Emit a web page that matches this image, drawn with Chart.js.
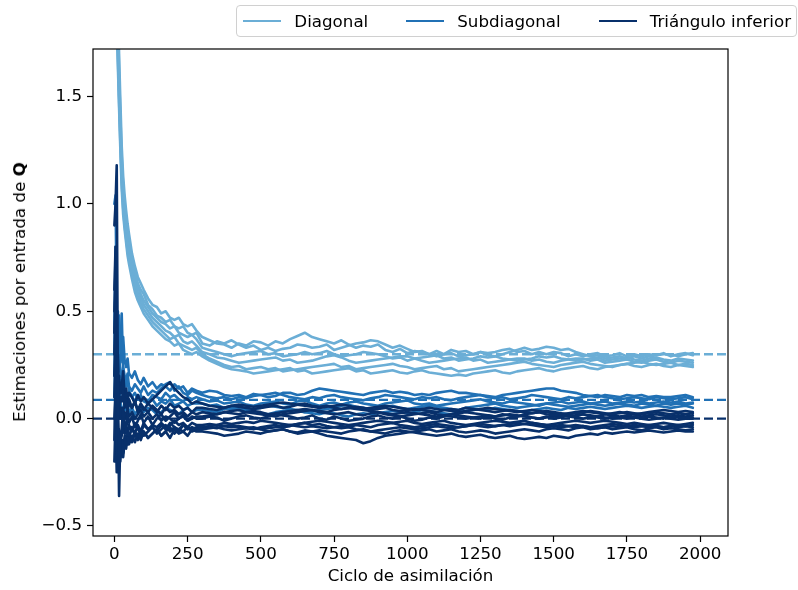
<!DOCTYPE html>
<html>
<head>
<meta charset="utf-8">
<script src="https://cdn.jsdelivr.net/npm/chart.js@4.4.1/dist/chart.umd.min.js"></script>
<style>
html,body{margin:0;padding:0;background:#fff;}
#wrap{position:relative;width:798px;height:590px;overflow:hidden;}
#c{position:absolute;left:0;top:0;}
#ytitle{position:absolute;left:19px;top:292px;transform:translate(-50%,-50%) rotate(-90deg);white-space:nowrap;font-family:"DejaVu Sans";font-size:16.7px;color:#000;}
#legend{position:absolute;right:1px;top:5px;height:32px;box-sizing:border-box;border:1px solid #d0d0d0;border-radius:4px;display:flex;align-items:center;padding:0 5px 0 6px;font-family:"DejaVu Sans";font-size:16.7px;color:#000;background:rgba(255,255,255,0.8);}
#legend .item{display:flex;align-items:center;margin-left:38px;}
#legend .item:first-child{margin-left:0;}
#legend .sw{width:38px;height:2.6px;margin-right:13px;}
</style>
</head>
<body>
<div id="wrap">
<canvas id="c" width="798" height="590"></canvas>
<div id="ytitle">Estimaciones por entrada de <b>Q</b></div>
<div id="legend"></div>
</div>
<script>
// ---------------- data ----------------
const earlyCycles = [0,4,8,12,16,20,25,30,35,40,45,50,60,70,80,90,100,115,130,145,160,175,190,205,220,235,250,265,280];
const lateCycles = [300,325,350,375,400,425,450,475,500,525,550,575,600,625,650,675,700,725,750,775,
  800,825,850,875,900,925,950,975,1000,1025,1050,1075,1100,1125,1150,1175,1200,1225,1250,1275,
  1300,1325,1350,1375,1400,1425,1450,1475,1500,1525,1550,1575,1600,1625,1650,1675,1700,1725,1750,1775,
  1800,1825,1850,1875,1900,1925,1950,1975];

const seriesNames = ['Diagonal','Subdiagonal','Triángulo inferior'];
const seriesColors = ['#6baed6','#2171b5','#08306b'];
const trueValues = [0.30, 0.087, 0.0];
const xTicks = [0,250,500,750,1000,1250,1500,1750,2000];
const yTicks = [-0.5,0,0.5,1.0,1.5];

const diagonalEarly = [
  [3.3,2.7,2.2,1.95,1.7,1.5,1.27,1.13,1.04,0.97,0.91,0.86,0.77,0.71,0.66,0.63,0.60,0.56,0.53,0.52,0.49,0.50,0.47,0.46,0.47,0.44,0.43,0.44,0.41],
  [3.1,2.55,2.1,1.85,1.62,1.43,1.22,1.08,1.0,0.93,0.87,0.82,0.74,0.69,0.63,0.60,0.58,0.53,0.51,0.48,0.47,0.45,0.46,0.43,0.42,0.43,0.40,0.39,0.40],
  [3.0,2.45,2.0,1.78,1.57,1.38,1.17,1.04,0.96,0.89,0.84,0.79,0.71,0.66,0.61,0.58,0.55,0.52,0.49,0.47,0.45,0.44,0.42,0.43,0.40,0.39,0.38,0.39,0.37],
  [2.9,2.35,1.95,1.72,1.52,1.34,1.13,1.01,0.93,0.86,0.81,0.76,0.69,0.63,0.59,0.56,0.53,0.50,0.47,0.45,0.43,0.41,0.40,0.38,0.39,0.36,0.35,0.36,0.34],
  [2.8,2.25,1.9,1.68,1.48,1.3,1.1,0.98,0.9,0.84,0.78,0.74,0.67,0.61,0.57,0.54,0.51,0.48,0.45,0.43,0.41,0.39,0.37,0.38,0.35,0.34,0.33,0.32,0.33],
  [2.7,2.15,1.85,1.64,1.45,1.27,1.07,0.95,0.88,0.82,0.76,0.72,0.65,0.59,0.55,0.52,0.49,0.46,0.43,0.41,0.39,0.37,0.36,0.34,0.35,0.32,0.31,0.30,0.31]
];
const diagonalLate = [
  [0.38,0.365,0.35,0.345, 0.33,0.35,0.34,0.36, 0.355,0.34,0.36,0.35, 0.37,0.385,0.40,0.38, 0.37,0.36,0.35,0.365, 0.345,0.33,0.34,0.335, 0.345,0.32,0.31,0.325, 0.305,0.315,0.31,0.30, 0.315,0.30,0.32,0.31, 0.315,0.30,0.31,0.305, 0.31,0.32,0.325,0.31, 0.315,0.30,0.31,0.30, 0.31,0.305,0.29,0.30, 0.29,0.30,0.305,0.29, 0.295,0.305,0.29,0.30, 0.29,0.30,0.295,0.305, 0.29,0.30,0.305,0.295],
  [0.35,0.34,0.36,0.35, 0.365,0.345,0.33,0.34, 0.32,0.33,0.315,0.325, 0.33,0.345,0.34,0.33, 0.335,0.345,0.32,0.33, 0.34,0.35,0.355,0.365, 0.36,0.345,0.33,0.34, 0.325,0.31,0.315,0.30, 0.29,0.30,0.305,0.29, 0.295,0.30,0.31,0.295, 0.29,0.30,0.31,0.32, 0.33,0.32,0.325,0.335, 0.33,0.32,0.325,0.31, 0.30,0.29,0.295,0.28, 0.285,0.29,0.28,0.29, 0.28,0.29,0.295,0.30, 0.30,0.29,0.30,0.305],
  [0.33,0.32,0.31,0.30, 0.29,0.30,0.305,0.31, 0.315,0.30,0.305,0.29, 0.295,0.30,0.31,0.30, 0.305,0.315,0.30,0.29, 0.295,0.30,0.31,0.305, 0.30,0.29,0.28,0.285, 0.27,0.28,0.285,0.29, 0.295,0.28,0.285,0.27, 0.275,0.28,0.29,0.285, 0.29,0.28,0.275,0.27, 0.275,0.28,0.29,0.285, 0.29,0.28,0.275,0.27, 0.275,0.28,0.285,0.27, 0.275,0.28,0.285,0.275, 0.27,0.28,0.285,0.275, 0.27,0.28,0.275,0.27],
  [0.31,0.30,0.285,0.28, 0.27,0.26,0.265,0.27, 0.275,0.28,0.285,0.27, 0.275,0.26,0.265,0.27, 0.28,0.29,0.295,0.285, 0.27,0.26,0.265,0.27, 0.275,0.28,0.285,0.29, 0.29,0.28,0.27,0.26, 0.265,0.27,0.275,0.28, 0.285,0.27,0.275,0.26, 0.265,0.27,0.275,0.28, 0.28,0.27,0.275,0.265, 0.26,0.27,0.275,0.28, 0.28,0.27,0.275,0.26, 0.265,0.27,0.275,0.265, 0.26,0.27,0.275,0.265, 0.26,0.27,0.265,0.26],
  [0.30,0.28,0.265,0.25, 0.24,0.245,0.23,0.235, 0.24,0.23,0.235,0.22, 0.225,0.23,0.235,0.24, 0.245,0.25,0.255,0.24, 0.245,0.23,0.235,0.24, 0.245,0.25,0.255,0.245, 0.24,0.23,0.235,0.24, 0.245,0.23,0.235,0.22, 0.225,0.23,0.235,0.24, 0.245,0.25,0.255,0.26, 0.265,0.255,0.25,0.245, 0.24,0.25,0.255,0.26, 0.265,0.255,0.25,0.245, 0.24,0.25,0.255,0.26, 0.265,0.255,0.25,0.255, 0.26,0.25,0.255,0.25],
  [0.29,0.27,0.255,0.24, 0.23,0.225,0.22,0.21, 0.215,0.22,0.225,0.23, 0.235,0.22,0.225,0.21, 0.215,0.22,0.225,0.23, 0.235,0.22,0.225,0.21, 0.215,0.22,0.225,0.215, 0.21,0.22,0.225,0.215, 0.21,0.205,0.20,0.205, 0.20,0.21,0.215,0.22, 0.225,0.215,0.21,0.22, 0.225,0.23,0.235,0.225, 0.22,0.23,0.235,0.24, 0.245,0.235,0.23,0.24, 0.245,0.25,0.255,0.245, 0.24,0.25,0.255,0.245, 0.24,0.25,0.245,0.24]
];

const subdiagonalEarly = [
  [1.0,1.04,0.5,0.42,0.48,0.35,0.30,0.38,0.27,0.24,0.28,0.21,0.19,0.22,0.18,0.16,0.19,0.15,0.17,0.14,0.16,0.15,0.13,0.16,0.14,0.15,0.12,0.14,0.13],
  [0.3,0.7,0.35,0.25,0.30,0.22,0.18,0.24,0.20,0.17,0.21,0.15,0.13,0.16,0.14,0.12,0.15,0.11,0.13,0.12,0.14,0.16,0.17,0.13,0.15,0.12,0.11,0.13,0.12],
  [0.2,0.5,0.2,0.15,0.12,0.18,0.14,0.10,0.13,0.11,0.09,0.12,0.10,0.08,0.11,0.09,0.10,0.08,0.11,0.10,0.09,0.12,0.10,0.11,0.09,0.08,0.10,0.09,0.10],
  [0.4,0.8,0.45,0.5,0.30,0.26,0.49,0.22,0.18,0.15,0.17,0.13,0.10,0.12,0.09,0.11,0.08,0.07,0.09,0.06,0.08,0.07,0.09,0.06,0.07,0.08,0.06,0.07,0.07],
  [0.1,0.3,0.05,0.1,0.15,0.08,0.05,0.02,0.07,0.04,0.06,0.03,0.05,0.02,0.04,0.06,0.03,0.05,0.04,0.02,0.03,0.05,0.04,0.03,0.02,0.04,0.05,0.03,0.04]
];
const subdiagonalLate = [
  [0.12,0.13,0.125,0.11, 0.105,0.11,0.10,0.115, 0.11,0.10,0.105,0.12, 0.12,0.11,0.115,0.13, 0.14,0.135,0.13,0.125, 0.12,0.115,0.11,0.12, 0.125,0.13,0.12,0.125, 0.12,0.11,0.115,0.11, 0.12,0.125,0.13,0.12, 0.12,0.115,0.11,0.105, 0.10,0.11,0.115,0.12, 0.125,0.13,0.135,0.14, 0.14,0.13,0.125,0.12, 0.11,0.105,0.10,0.11, 0.105,0.10,0.11,0.105, 0.11,0.10,0.105,0.10, 0.10,0.105,0.11,0.10],
  [0.11,0.10,0.095,0.10, 0.09,0.10,0.095,0.105, 0.11,0.115,0.12,0.11, 0.10,0.095,0.09,0.10, 0.095,0.105,0.11,0.10, 0.095,0.09,0.085,0.095, 0.10,0.11,0.105,0.10, 0.095,0.09,0.10,0.095, 0.10,0.09,0.085,0.095, 0.10,0.105,0.11,0.10, 0.095,0.10,0.09,0.095, 0.10,0.11,0.105,0.10, 0.095,0.09,0.10,0.095, 0.10,0.105,0.11,0.10, 0.095,0.09,0.095,0.10, 0.095,0.09,0.10,0.095, 0.09,0.095,0.10,0.09],
  [0.09,0.08,0.085,0.07, 0.075,0.08,0.065,0.06, 0.07,0.075,0.08,0.07, 0.065,0.08,0.085,0.07, 0.06,0.07,0.075,0.065, 0.075,0.08,0.07,0.065, 0.06,0.07,0.075,0.08, 0.085,0.07,0.065,0.07, 0.06,0.065,0.07,0.075, 0.08,0.085,0.09,0.08, 0.075,0.07,0.08,0.075, 0.07,0.065,0.06,0.07, 0.075,0.08,0.07,0.075, 0.08,0.07,0.075,0.08, 0.07,0.075,0.08,0.075, 0.08,0.07,0.075,0.08, 0.075,0.08,0.07,0.075],
  [0.07,0.06,0.065,0.05, 0.045,0.05,0.04,0.045, 0.05,0.06,0.055,0.05, 0.045,0.04,0.03,0.035, 0.04,0.045,0.05,0.06, 0.065,0.055,0.05,0.045, 0.05,0.055,0.06,0.05, 0.045,0.05,0.055,0.06, 0.055,0.05,0.045,0.04, 0.05,0.055,0.06,0.065, 0.07,0.06,0.055,0.05, 0.055,0.06,0.065,0.07, 0.065,0.06,0.055,0.06, 0.065,0.07,0.065,0.06, 0.065,0.07,0.065,0.06, 0.07,0.065,0.06,0.07, 0.065,0.07,0.065,0.07],
  [0.04,0.035,0.03,0.045, 0.05,0.04,0.035,0.03, 0.025,0.02,0.03,0.035, 0.04,0.035,0.03,0.025, 0.02,0.03,0.025,0.015, 0.01,0.02,0.025,0.02, 0.025,0.03,0.035,0.03, 0.025,0.03,0.04,0.035, 0.03,0.025,0.02,0.03, 0.035,0.04,0.045,0.04, 0.05,0.045,0.04,0.035, 0.03,0.04,0.045,0.05, 0.045,0.04,0.05,0.045, 0.05,0.055,0.05,0.045, 0.05,0.055,0.06,0.055, 0.05,0.055,0.06,0.055, 0.05,0.055,0.06,0.05]
];

const lowerEarly = [
  [0.9,1.0,1.18,0.1,-0.36,-0.1,-0.05,0.05,-0.03,-0.06,0.02,-0.02,0.01,-0.04,-0.01,0.02,-0.02,0.01,-0.03,0.0,0.02,-0.01,0.01,0.03,0.0,0.02,-0.01,0.01,0.0],
  [0.2,0.4,-0.1,-0.25,-0.15,-0.20,-0.12,-0.18,-0.10,-0.14,-0.09,-0.12,-0.08,-0.11,-0.07,-0.10,-0.06,-0.09,-0.07,-0.05,-0.08,-0.06,-0.09,-0.05,-0.07,-0.06,-0.08,-0.05,-0.06],
  [0.3,0.5,0.1,-0.2,-0.05,-0.1,-0.08,-0.03,-0.07,-0.04,-0.09,-0.03,-0.06,-0.02,-0.05,-0.07,-0.03,-0.05,-0.04,-0.06,-0.03,-0.05,-0.02,-0.04,-0.06,-0.03,-0.05,-0.04,-0.05],
  [0.1,0.3,0.05,0.2,0.05,0.1,0.08,0.13,0.05,0.09,0.04,0.07,0.05,0.08,0.03,0.06,0.04,0.07,0.05,0.03,0.06,0.04,0.07,0.05,0.06,0.04,0.05,0.03,0.05],
  [-0.1,0.2,-0.15,0.0,-0.12,-0.08,-0.16,-0.10,-0.13,-0.08,-0.12,-0.09,-0.11,-0.07,-0.10,-0.08,-0.06,-0.09,-0.07,-0.05,-0.08,-0.06,-0.04,-0.07,-0.05,-0.06,-0.04,-0.06,-0.05],
  [0.5,0.7,0.2,0.3,0.1,0.15,0.12,0.18,0.08,0.11,0.06,0.09,0.05,0.08,0.04,0.07,0.05,0.03,0.06,0.04,0.02,0.05,0.03,0.04,0.02,0.03,0.01,0.03,0.02],
  [0.0,0.1,-0.2,-0.1,-0.22,-0.15,-0.1,-0.16,-0.12,-0.08,-0.11,-0.07,-0.10,-0.06,-0.09,-0.05,-0.08,-0.06,-0.04,-0.07,-0.05,-0.03,-0.06,-0.04,-0.05,-0.03,-0.04,-0.05,-0.04],
  [0.4,0.6,0.3,0.0,0.1,0.0,0.05,-0.02,0.03,0.0,0.04,0.01,0.03,0.0,0.02,0.04,0.01,0.03,0.0,0.02,-0.01,0.01,0.0,-0.02,0.0,0.01,-0.01,0.0,0.01],
  [-0.2,0.0,-0.25,-0.1,-0.18,-0.06,-0.12,-0.15,-0.08,-0.11,-0.06,-0.09,-0.04,-0.07,-0.03,-0.06,-0.02,-0.05,-0.03,-0.04,-0.02,-0.04,-0.03,-0.01,-0.03,-0.02,-0.04,-0.02,-0.03],
  [0.6,0.8,0.4,0.15,0.2,0.12,0.15,0.22,0.1,0.14,0.09,0.12,0.1,0.07,0.11,0.08,0.1,0.07,0.09,0.11,0.13,0.15,0.17,0.14,0.12,0.10,0.09,0.07,0.08]
];
const lowerLate = [
  [0.0,0.01,0.005,-0.01, 0.0,0.01,0.015,0.005, 0.0,0.01,0.02,0.015, 0.01,0.0,0.005,0.015, 0.0,-0.005,0.01,0.0, -0.01,-0.005,0.0,0.01, 0.015,0.005,0.0,0.01, 0.0,-0.01,-0.005,0.005, 0.0,0.01,0.02,0.015, 0.01,0.005,0.0,0.01, 0.0,-0.005,0.005,0.01, 0.015,0.005,0.0,0.01, 0.0,0.005,0.015,0.01, 0.02,0.01,0.005,0.0, 0.01,0.005,0.0,0.01, 0.0,0.01,0.005,0.0, 0.01,0.005,0.0,0.005],
  [-0.06,-0.065,-0.07,-0.08, -0.075,-0.07,-0.06,-0.065, -0.07,-0.06,-0.055,-0.05, -0.06,-0.065,-0.055,-0.06, -0.07,-0.08,-0.085,-0.09, -0.095,-0.10,-0.115,-0.105, -0.09,-0.08,-0.075,-0.07, -0.065,-0.06,-0.055,-0.05, -0.06,-0.055,-0.05,-0.06, -0.065,-0.06,-0.055,-0.06, -0.07,-0.065,-0.06,-0.055, -0.05,-0.055,-0.06,-0.05, -0.045,-0.05,-0.055,-0.045, -0.04,-0.05,-0.045,-0.04, -0.05,-0.045,-0.04,-0.05, -0.055,-0.045,-0.04,-0.05, -0.045,-0.05,-0.055,-0.05],
  [-0.05,-0.045,-0.04,-0.05, -0.055,-0.05,-0.045,-0.04, -0.05,-0.06,-0.055,-0.05, -0.06,-0.07,-0.065,-0.06, -0.055,-0.06,-0.065,-0.07, -0.06,-0.055,-0.05,-0.06, -0.065,-0.07,-0.06,-0.055, -0.06,-0.065,-0.07,-0.075, -0.08,-0.075,-0.07,-0.08, -0.085,-0.08,-0.075,-0.085, -0.09,-0.085,-0.08,-0.09, -0.095,-0.09,-0.085,-0.09, -0.08,-0.085,-0.09,-0.08, -0.075,-0.07,-0.075,-0.065, -0.07,-0.065,-0.06,-0.065, -0.06,-0.055,-0.06,-0.065, -0.06,-0.055,-0.06,-0.06],
  [0.05,0.045,0.04,0.05, 0.06,0.055,0.05,0.045, 0.05,0.055,0.06,0.05, 0.055,0.065,0.07,0.06, 0.055,0.06,0.05,0.045, 0.05,0.055,0.05,0.04, 0.045,0.05,0.04,0.035, 0.04,0.045,0.04,0.035, 0.03,0.04,0.045,0.04, 0.05,0.045,0.04,0.035, 0.03,0.035,0.04,0.035, 0.03,0.025,0.03,0.035, 0.03,0.025,0.02,0.025, 0.03,0.035,0.03,0.025, 0.02,0.025,0.03,0.025, 0.02,0.025,0.03,0.025, 0.02,0.025,0.02,0.025],
  [-0.05,-0.04,-0.045,-0.035, -0.03,-0.04,-0.045,-0.05, -0.04,-0.035,-0.03,-0.04, -0.035,-0.025,-0.02,-0.03, -0.025,-0.035,-0.04,-0.045, -0.04,-0.03,-0.035,-0.04, -0.03,-0.025,-0.02,-0.03, -0.035,-0.04,-0.035,-0.03, -0.025,-0.03,-0.035,-0.04, -0.035,-0.03,-0.025,-0.03, -0.035,-0.03,-0.025,-0.02, -0.025,-0.03,-0.035,-0.04, -0.035,-0.03,-0.035,-0.04, -0.035,-0.04,-0.045,-0.04, -0.035,-0.04,-0.035,-0.03, -0.035,-0.04,-0.035,-0.04, -0.035,-0.03,-0.035,-0.03],
  [0.03,0.025,0.02,0.03, 0.035,0.04,0.03,0.025, 0.02,0.015,0.01,0.02, 0.025,0.03,0.035,0.04, 0.03,0.025,0.02,0.025, 0.03,0.02,0.015,0.025, 0.03,0.02,0.015,0.01, 0.015,0.02,0.025,0.03, 0.02,0.015,0.01,0.005, 0.0,0.005,0.01,0.015, 0.01,0.02,0.015,0.01, 0.02,0.025,0.03,0.02, 0.015,0.02,0.01,0.015, 0.02,0.015,0.01,0.02, 0.015,0.01,0.015,0.02, 0.01,0.015,0.02,0.015, 0.01,0.015,0.01,0.015],
  [-0.04,-0.035,-0.03,-0.02, -0.025,-0.02,-0.015,-0.02, -0.01,-0.015,-0.02,-0.025, -0.03,-0.025,-0.02,-0.015, -0.01,-0.015,-0.02,-0.025, -0.03,-0.025,-0.02,-0.015, -0.01,-0.015,-0.02,-0.015, -0.01,-0.02,-0.025,-0.02, -0.015,-0.01,-0.02,-0.025, -0.03,-0.025,-0.02,-0.015, -0.01,-0.015,-0.02,-0.015, -0.01,-0.02,-0.025,-0.03, -0.025,-0.02,-0.015,-0.01, -0.015,-0.02,-0.015,-0.01, -0.015,-0.02,-0.025,-0.02, -0.025,-0.03,-0.025,-0.02, -0.025,-0.03,-0.025,-0.02],
  [0.01,0.015,0.02,0.03, 0.025,0.02,0.03,0.035, 0.03,0.02,0.025,0.03, 0.035,0.04,0.045,0.04, 0.035,0.03,0.04,0.045, 0.05,0.045,0.04,0.035, 0.03,0.025,0.02,0.025, 0.03,0.025,0.02,0.015, 0.01,0.015,0.02,0.025, 0.03,0.025,0.02,0.015, 0.01,0.015,0.02,0.015, 0.01,0.005,0.0,0.005, 0.01,0.015,0.01,0.005, 0.0,0.005,0.01,0.005, 0.0,0.005,0.01,0.005, 0.0,-0.005,0.0,0.005, 0.0,-0.005,0.0,0.0],
  [-0.03,-0.025,-0.03,-0.035, -0.04,-0.035,-0.04,-0.045, -0.05,-0.045,-0.04,-0.035, -0.03,-0.035,-0.04,-0.035, -0.04,-0.045,-0.04,-0.035, -0.04,-0.05,-0.055,-0.06, -0.055,-0.05,-0.045,-0.04, -0.045,-0.05,-0.045,-0.04, -0.035,-0.04,-0.045,-0.04, -0.035,-0.03,-0.035,-0.04, -0.035,-0.03,-0.035,-0.03, -0.025,-0.02,-0.025,-0.03, -0.035,-0.04,-0.035,-0.03, -0.035,-0.04,-0.035,-0.03, -0.025,-0.03,-0.035,-0.04, -0.035,-0.03,-0.035,-0.04, -0.035,-0.04,-0.035,-0.04],
  [0.07,0.06,0.055,0.05, 0.06,0.065,0.06,0.055, 0.06,0.065,0.07,0.075, 0.07,0.065,0.06,0.055, 0.05,0.055,0.06,0.065, 0.06,0.05,0.045,0.05, 0.055,0.06,0.055,0.05, 0.045,0.04,0.045,0.05, 0.045,0.04,0.035,0.03, 0.035,0.04,0.045,0.05, 0.045,0.04,0.035,0.03, 0.035,0.04,0.035,0.03, 0.025,0.02,0.025,0.03, 0.035,0.03,0.025,0.02, 0.025,0.03,0.025,0.02, 0.025,0.03,0.035,0.04, 0.035,0.03,0.035,0.03]
];

// ---------------- chart ----------------
const cycles = earlyCycles.concat(lateCycles);
Chart.defaults.font.family = 'DejaVu Sans';
Chart.defaults.color = '#000';

function mkDataset(early, late, g){
  const vals = early.concat(late);
  if (vals.length !== cycles.length) throw new Error('length mismatch in ' + seriesNames[g] + ': ' + vals.length + ' vs ' + cycles.length);
  return {label: seriesNames[g], data: cycles.map((c,i)=>({x:c, y:vals[i]})),
          borderColor: seriesColors[g], backgroundColor: seriesColors[g],
          borderWidth: 2.6, pointRadius: 0, pointHoverRadius: 0, fill: false, tension: 0,
          borderJoinStyle: 'round', borderCapStyle: 'round'};
}
const datasets = [];
lowerEarly.forEach((e,i) => datasets.push(mkDataset(e, lowerLate[i], 2)));
subdiagonalEarly.forEach((e,i) => datasets.push(mkDataset(e, subdiagonalLate[i], 1)));
diagonalEarly.forEach((e,i) => datasets.push(mkDataset(e, diagonalLate[i], 0)));

const refLines = {
  id: 'refLines',
  beforeDatasetsDraw(chart){
    const {ctx, chartArea, scales} = chart;
    ctx.save();
    ctx.lineWidth = 2.4;
    ctx.setLineDash([9, 4]);
    trueValues.forEach((v, g) => {
      const y = scales.y.getPixelForValue(v);
      ctx.strokeStyle = seriesColors[g];
      ctx.beginPath(); ctx.moveTo(chartArea.left, y); ctx.lineTo(chartArea.right, y); ctx.stroke();
    });
    ctx.restore();
  }
};
const frame = {
  id: 'frame',
  afterDraw(chart){
    const {ctx, chartArea:a} = chart;
    ctx.save(); ctx.strokeStyle = '#000'; ctx.lineWidth = 1.2;
    ctx.strokeRect(a.left, a.top, a.right - a.left, a.bottom - a.top);
    ctx.restore();
  }
};
const htmlLegend = {
  id: 'htmlLegend',
  afterUpdate(chart){
    const box = document.getElementById('legend');
    box.innerHTML = '';
    const items = chart.options.plugins.legend.labels.generateLabels(chart);
    const seen = new Set();
    [...items].sort((a,b)=>seriesNames.indexOf(a.text)-seriesNames.indexOf(b.text)).forEach(it => {
      if (seen.has(it.text)) return; seen.add(it.text);
      const d = document.createElement('div'); d.className = 'item';
      const sw = document.createElement('span'); sw.className = 'sw'; sw.style.background = it.strokeStyle;
      const t = document.createElement('span'); t.textContent = it.text;
      d.appendChild(sw); d.appendChild(t); box.appendChild(d);
    });
  }
};

new Chart(document.getElementById('c'), {
  type: 'line',
  data: { datasets },
  options: {
    responsive: false, animation: false, events: [],
    layout: { padding: { top: 49, right: 70, bottom: 0, left: 0 } },
    plugins: { legend: { display: false }, tooltip: { enabled: false } },
    scales: {
      x: {
        type: 'linear', min: -73, max: 2095,
        afterFit(s){ s.height = 54; },
        afterBuildTicks(s){ s.ticks = xTicks.map(v => ({value: v})); },
        ticks: { font: {size: 16.7}, padding: 3, maxRotation: 0, autoSkip: false, callback: v => String(v) },
        grid: { drawOnChartArea: false, drawTicks: true, tickLength: 6, tickWidth: 1.2, tickColor: '#000' },
        border: { display: false },
        title: { display: true, text: 'Ciclo de asimilación', font: {size: 16.7}, padding: {top: 0, bottom: 3} }
      },
      y: {
        type: 'linear', min: -0.547, max: 1.722,
        afterFit(s){ s.width = 93; },
        afterBuildTicks(s){ s.ticks = yTicks.map(v => ({value: v})); },
        ticks: { font: {size: 16.7}, padding: 5, autoSkip: false,
                 callback: v => (v < 0 ? '\u2212' : '') + Math.abs(v).toFixed(1) },
        grid: { drawOnChartArea: false, drawTicks: true, tickLength: 6, tickWidth: 1.2, tickColor: '#000' },
        border: { display: false }
      }
    }
  },
  plugins: [refLines, frame, htmlLegend]
});
</script>
</body>
</html>
